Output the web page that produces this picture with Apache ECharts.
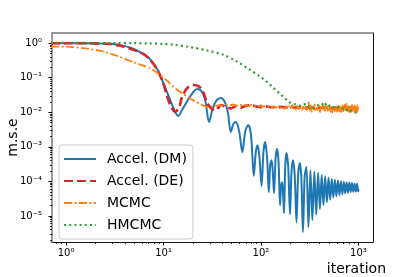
<!DOCTYPE html>
<html><head><meta charset="utf-8">
<script src="https://cdn.jsdelivr.net/npm/echarts@6/dist/echarts.min.js"></script>
<style>html,body{margin:0;padding:0;background:#fff}#c{width:415px;height:277px}</style>
</head><body><div id="c"></div>
<script>
// ---------- data ----------
const seriesNames = ['Accel. (DM)', 'Accel. (DE)', 'MCMC', 'HMCMC'];

const dmIter = [0.7,1,2,2.85,3.6,4.6,5.8,7.3,8.8,9.9,11.2,12.6,14.1,15.8,18.8,22.1,24.5,26.8,29.3,32,35,38.6,42.5,46,48.9,52,55,59.5,64.4,69,74.1,79,84.4,88.5,92.3,96.5,101.4,106,110.2,115.5,120.4,124.5,128.4,132,136.2,141.5,146.9,152,156.9,161,165.2,169,172.4,177.5,182.8,190.5,198.6,206,213.1,222,231.4,241,251.3,260,269.7,281,292.9,307,322,337,353,369,386,403,420,438,456,475,494,513,533,553,574,595,617,639,662,685,709,733,757,782,807,833,859,886,913,941,969,997,1000];
const dmMse = [0.99,0.99,0.985,0.97,0.88,0.74,0.54,0.34,0.16,0.072,0.031,0.0135,0.0078,0.0128,0.029,0.047,0.041,0.022,0.0052,0.013,0.022,0.026,0.020,0.009,0.0027,0.0045,0.0052,0.0030,0.0007,0.0028,0.0043,0.0022,0.000145,0.0007,0.00112,0.0005,0.000073,0.0007,0.00137,0.0005,0.000049,0.0003,0.00041,0.0002,0.0000455,0.0005,0.00086,0.0003,0.0000204,0.00007,0.000095,0.00004,0.000012,0.0003,0.00066,0.00025,0.0000112,0.0002,0.00041,0.00015,0.0000066,0.00016,0.00034,0.00012,0.0000034,0.00014,0.00026,0.0000047,0.00021,0.0000075,0.00019,0.000011,0.000178,0.000016,0.000153,0.0000205,0.00014,0.000025,0.000128,0.0000295,0.00012,0.000034,0.000112,0.000037,0.000106,0.00004,0.0001,0.000043,0.000097,0.000045,0.000094,0.000047,0.000092,0.000049,0.000089,0.00005,0.000087,0.0000505,0.000086,0.000051,0.00006];

const deIter = [0.7,1,2,2.8,3.6,4.9,6.2,7.3,8.6,9.9,10.9,12.0,13.2,14.5,15.5,17.5,20.1,23.2,25.5,28.0,30.8,34.6,38.9,43.8,49.3,55,62,70,80,90,100,115,130,150,180,220,270,350,450,600,800,1000];
const deMse = [1.0,1.0,0.99,0.95,0.84,0.64,0.49,0.33,0.17,0.072,0.028,0.0142,0.0103,0.0142,0.0279,0.050,0.0617,0.0554,0.0387,0.0186,0.0130,0.0116,0.0163,0.0142,0.0130,0.0150,0.0136,0.0155,0.0160,0.0147,0.0141,0.0146,0.0140,0.0143,0.0139,0.0138,0.0137,0.0136,0.0135,0.0134,0.0134,0.0133];

const mcmcIter = [0.7,1,1.5,2.25,3.33,4.93,7.3,9.25,10.9,13.8,18.8,23.7,28.7,31,34,37,40,44,48,52,56,60,65,70,75,80,85,90,95,100,106,112,118,124,130,136,142,150,156,162,168,174,180,186,192,198,204,210,216,222,228,234,240,246,252,258,264,270,276,282,288,294,300,308,316,324,332,340,348,356,364,372,380,388,396,404,412,420,428,436,444,452,460,468,476,484,492,500,508,516,524,532,540,548,556,564,572,580,588,596,604,612,620,628,636,644,652,660,668,676,684,692,700,708,716,724,732,740,748,756,764,772,780,788,796,804,812,820,828,836,844,852,860,868,876,884,892,900,908,916,924,932,940,948,956,964,972,980,988,996,1000];
const mcmcMse = [0.80,0.80,0.72,0.60,0.43,0.28,0.188,0.12,0.081,0.0443,0.0251,0.0174,0.0142,0.0146,0.0152,0.0160,0.0156,0.0164,0.0159,0.0168,0.0157,0.0170,0.0154,0.0162,0.0151,0.0166,0.0149,0.0158,0.0147,0.0160,0.0144,0.0155,0.0141,0.0153,0.0138,0.0150,0.0136,0.0145,0.0132,0.0151,0.0138,0.0126,0.0149,0.0131,0.0156,0.0124,0.0142,0.0161,0.0129,0.0140,0.0118,0.0153,0.0130,0.0122,0.0164,0.0135,0.0116,0.0148,0.0127,0.0172,0.0120,0.0144,0.0112,0.0195,0.0110,0.0158,0.0104,0.0146,0.0121,0.0173,0.0108,0.0139,0.0115,0.0162,0.0124,0.0101,0.0148,0.0129,0.0181,0.0113,0.0136,0.0106,0.0154,0.0122,0.0169,0.0109,0.0131,0.0118,0.0159,0.0102,0.0143,0.0126,0.0098,0.0137,0.0114,0.0152,0.0107,0.0129,0.0111,0.0146,0.0103,0.0134,0.0119,0.0161,0.0105,0.0128,0.0112,0.0149,0.0101,0.0133,0.0120,0.0157,0.0108,0.0139,0.0116,0.0168,0.0110,0.0142,0.0123,0.0179,0.0114,0.0138,0.0106,0.0151,0.0125,0.0102,0.0144,0.0117,0.0132,0.0100,0.0155,0.0121,0.0163,0.0109,0.0136,0.0113,0.0147,0.0104,0.0130,0.0118,0.0159,0.0106,0.0127,0.0096,0.0141,0.0112,0.0165,0.0103,0.0134,0.0110,0.0122];

const hmcIter = [0.7,1,2,3,5,7,10,12.7,18.8,27.8,41,56,77,95,114,135,156,175,190,210,232,250,270,293,310,328,343,360,380,400,418,435,452,470,490,510,529,550,575,600,630,670,700,730,760,783,810,850,880,916,945,970,991,1000];
const hmcMse = [1.02,1.02,1.01,1.005,1.0,0.985,0.95,0.90,0.77,0.62,0.46,0.30,0.17,0.115,0.077,0.050,0.035,0.026,0.0205,0.018,0.0165,0.0155,0.0168,0.0174,0.0145,0.0138,0.0131,0.0142,0.0156,0.0170,0.0178,0.0165,0.0190,0.0150,0.0145,0.0158,0.0152,0.0139,0.0148,0.0153,0.0140,0.0142,0.0128,0.0134,0.0118,0.0104,0.0112,0.0108,0.0101,0.0097,0.0105,0.0112,0.0116,0.0113];

// axis ticks
const xMajorTicks = [1, 10, 100, 1000];
const yMajorTicks = [1e-5, 1e-4, 1e-3, 1e-2, 1e-1, 1];
const minorMantissas = [2,3,4,5,6,7,8,9];
const xMinorDecades = [0.1, 1, 10, 100];
const yMinorDecades = [1e-6, 1e-5, 1e-4, 1e-3, 1e-2, 1e-1];

// ---------- chart ----------
const XMIN = Math.pow(10, -0.145), XMAX = Math.pow(10, 3.15);
const YMIN = Math.pow(10, -5.755), YMAX = Math.pow(10, 0.295);
function minorList(decades, lo, hi) {
  const out = [];
  decades.forEach(d => minorMantissas.forEach(m => { const v = +(m * d).toPrecision(6); if (v > lo && v < hi) out.push(v); }));
  return out;
}
const xMinorTicks = minorList(xMinorDecades, XMIN, XMAX);
const yMinorTicks = minorList(yMinorDecades, YMIN, YMAX);
const SUP = {'-':'\u207B','0':'\u2070','1':'\u00B9','2':'\u00B2','3':'\u00B3','4':'\u2074','5':'\u2075','6':'\u2076'};
function fmt(v) { const e = String(Math.round(Math.log10(v))); return '10' + e.split('').map(c => SUP[c]).join(''); }
function zip(a, b) { return a.map((x, i) => [x, b[i]]); }

const FONT = 'DejaVu Sans';
const spineDark = '#111111', spineGray = '#7a7a7a';
const chart = echarts.init(document.getElementById('c'), null, {renderer: 'canvas'});
chart.setOption({
  animation: false,
  backgroundColor: '#ffffff',
  textStyle: {fontFamily: FONT, color: '#000'},
  grid: {left: 52, right: 42, top: 33, bottom: 35, containLabel: false, outerBoundsMode: 'none'},
  xAxis: [
    {type: 'log', min: XMIN, max: XMAX, position: 'bottom',
     axisLine: {show: true, onZero: false, lineStyle: {color: spineDark, width: 1}},
     axisTick: {show: true, customValues: xMajorTicks, length: 3.5, lineStyle: {color: '#000', width: 1}},
     axisLabel: {show: true, customValues: xMajorTicks, formatter: fmt, fontSize: 10, fontFamily: FONT, color: '#000', margin: 6},
     splitLine: {show: false},
     name: 'iteration', nameLocation: 'end', nameGap: 13, nameMoveOverlap: false,
     nameTextStyle: {fontSize: 14, fontFamily: FONT, color: '#000', align: 'right', verticalAlign: 'top', padding: [20, 0, 0, 0]}},
    {type: 'log', min: XMIN, max: XMAX, position: 'bottom',
     axisLine: {show: false, onZero: false},
     axisTick: {show: true, customValues: xMinorTicks, length: 2, lineStyle: {color: '#000', width: 0.8}},
     axisLabel: {show: false}, splitLine: {show: false}},
    {type: 'log', min: XMIN, max: XMAX, position: 'top',
     axisLine: {show: true, onZero: false, lineStyle: {color: spineGray, width: 1.5}},
     axisTick: {show: false}, axisLabel: {show: false}, splitLine: {show: false}}
  ],
  yAxis: [
    {type: 'log', min: YMIN, max: YMAX, position: 'left',
     axisLine: {show: true, onZero: false, lineStyle: {color: spineGray, width: 1.5}},
     axisTick: {show: true, customValues: yMajorTicks, length: 3.5, lineStyle: {color: '#000', width: 1}},
     axisLabel: {show: true, customValues: yMajorTicks, formatter: fmt, fontSize: 10, fontFamily: FONT, color: '#000', margin: 10},
     splitLine: {show: false},
     name: 'm.s.e', nameLocation: 'middle', nameGap: 32, nameMoveOverlap: false,
     nameTextStyle: {fontSize: 14, fontFamily: FONT, color: '#000'}},
    {type: 'log', min: YMIN, max: YMAX, position: 'left',
     axisLine: {show: false, onZero: false},
     axisTick: {show: true, customValues: yMinorTicks, length: 2, lineStyle: {color: '#000', width: 0.8}},
     axisLabel: {show: false}, splitLine: {show: false}},
    {type: 'log', min: YMIN, max: YMAX, position: 'right',
     axisLine: {show: true, onZero: false, lineStyle: {color: spineDark, width: 1}},
     axisTick: {show: false}, axisLabel: {show: false}, splitLine: {show: false}}
  ],
  legend: {
    orient: 'vertical', left: 59, top: 145,
    data: seriesNames,
    itemWidth: 32, itemHeight: 14, itemGap: 8,
    padding: [7, 6, 7, 4],
    itemStyle: {opacity: 0, borderWidth: 0},
    backgroundColor: 'rgba(255,255,255,0.8)', borderColor: '#cccccc', borderWidth: 1, borderRadius: 3,
    textStyle: {fontSize: 14, fontFamily: FONT, color: '#000', padding: [0, 0, 0, 6]},
    selectedMode: false
  },
  series: [
    {name: seriesNames[0], type: 'line', data: zip(dmIter, dmMse), xAxisIndex: 0, yAxisIndex: 0,
     symbol: 'none', showSymbol: false, smooth: 0.3, clip: true,
     lineStyle: {color: '#1f77b4', width: 2}, itemStyle: {color: '#1f77b4'}},
    {name: seriesNames[1], type: 'line', data: zip(deIter, deMse), xAxisIndex: 0, yAxisIndex: 0,
     symbol: 'none', showSymbol: false, smooth: 0.3, clip: true,
     lineStyle: {color: '#d62728', width: 2.6, type: [9, 4], cap: 'butt'}, itemStyle: {color: '#d62728'}},
    {name: seriesNames[2], type: 'line', data: zip(mcmcIter, mcmcMse), xAxisIndex: 0, yAxisIndex: 0,
     symbol: 'none', showSymbol: false, smooth: 0.2, clip: true,
     lineStyle: {color: '#ff7f0e', width: 1.8, type: [8, 2.5, 2, 2.5], cap: 'butt'}, itemStyle: {color: '#ff7f0e'}},
    {name: seriesNames[3], type: 'line', data: zip(hmcIter, hmcMse), xAxisIndex: 0, yAxisIndex: 0,
     symbol: 'none', showSymbol: false, smooth: 0.3, clip: true,
     lineStyle: {color: '#2ca02c', width: 2.2, type: [2, 3.2], cap: 'butt'}, itemStyle: {color: '#2ca02c'}}
  ]
});
</script></body></html>
